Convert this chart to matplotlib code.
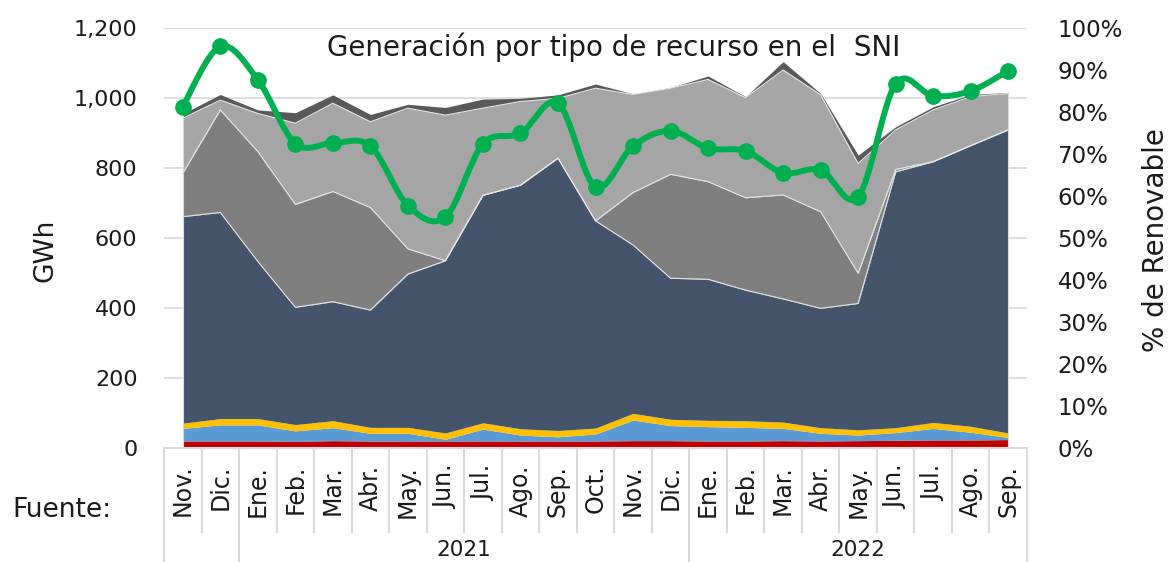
import matplotlib
matplotlib.use("Agg")
import matplotlib.pyplot as plt
from matplotlib.path import Path
from matplotlib.patches import PathPatch
import matplotlib.transforms as mtransforms
import numpy as np

plt.rcParams['font.family'] = ['DejaVu Sans']

months = ["Nov.", "Dic.", "Ene.", "Feb.", "Mar.", "Abr.", "May.", "Jun.", "Jul.", "Ago.",
          "Sep.", "Oct.", "Nov.", "Dic.", "Ene.", "Feb.", "Mar.", "Abr.", "May.", "Jun.",
          "Jul.", "Ago.", "Sep."]
years = ["", "2021", "2022"]
year_counts = [2, 12, 9]

red = [20, 20, 20, 19, 21, 20, 20, 20, 20, 20, 20, 20, 21, 21, 20, 20, 21, 20, 21, 22, 23, 23, 24]
blue = [36, 46, 46, 30, 37, 22, 22, 5, 34, 17, 12, 20, 59, 43, 41, 39, 35, 22, 16, 22, 33, 22, 6]
yellow = [15, 18, 18, 18, 20, 17, 17, 18, 18, 18, 18, 17, 19, 18, 18, 19, 18, 16, 15, 14, 17, 17, 13]
navy = [590, 589, 449, 335, 340, 335, 438, 492, 650, 696, 778, 592, 481, 403, 403, 373, 352, 341,
        361, 731, 745, 802, 866]
medgray = [124, 293, 314, 294, 315, 293, 72, 0, 0, 0, 0, 0, 150, 297, 279, 264, 297, 276, 86, 7,
           0, 0, 0]
lightgray = [157, 28, 109, 232, 252, 245, 402, 416, 249, 239, 171, 379, 280, 246, 292, 286, 357,
             334, 314, 113, 148, 140, 104]
darkgray = [13, 16, 10, 30, 24, 21, 11, 22, 26, 9, 10, 12, 2, 2, 10, 3, 24, 4, 24, 9, 9, 6, 3]
renovable = [81.3, 95.6, 87.7, 72.5, 72.6, 71.9, 57.7, 55.0, 72.4, 74.9, 82.1, 62.2, 71.9, 75.5,
             71.4, 70.7, 65.5, 66.2, 59.8, 86.7, 83.8, 85.0, 89.8]

series = [red, blue, yellow, navy, medgray, lightgray, darkgray]
colors = ["#C00000", "#5B9BD5", "#FFC000", "#44546A", "#7F7F7F", "#A5A5A5", "#595959"]
edged = [False, False, False, True, True, True, False]

W, H = 1171, 562
fig = plt.figure(figsize=(W / 100, H / 100), dpi=100)
L, R, T, B = 164, 1027, 28, 448
ax = fig.add_axes([L / W, 1 - B / H, (R - L) / W, (B - T) / H])

x = np.arange(len(months))
base = np.zeros(len(months))
for vals, c, e in zip(series, colors, edged):
    top = base + np.array(vals, dtype=float)
    ax.fill_between(x, base, top, color=c, linewidth=0, zorder=2)
    if e:
        ax.plot(x, top, color="#E6E6E6", linewidth=0.8, zorder=3)
    base = top
ax.plot([x[0], x[0]], [0, base[0]], color="#D9D9D9", lw=0.8, zorder=3)
ax.plot([x[-1], x[-1]], [0, base[-1]], color="#D9D9D9", lw=0.8, zorder=3)

ax.set_xlim(-0.5, len(months) - 0.5)
ax.set_ylim(0, 1200)
ax.set_yticks(range(0, 1201, 200))
ax.set_yticklabels([f"{v:,}" for v in range(0, 1201, 200)])
ax.yaxis.grid(True, color="#D9D9D9", linewidth=1.2, zorder=0)
ax.set_axisbelow(True)
for s in ax.spines.values():
    s.set_visible(False)
ax.tick_params(axis='y', length=0, pad=19, labelsize=16, colors="#1a1a1a")
ax.tick_params(axis='x', length=0, labelbottom=False)

# secondary axis
ax2 = ax.twinx()
ax2.set_ylim(0, 100)
ax2.set_yticks(range(0, 101, 10))
ax2.set_yticklabels([f"{v}%" for v in range(0, 101, 10)])
for s in ax2.spines.values():
    s.set_visible(False)
ax2.tick_params(axis='y', length=0, pad=22, labelsize=16.5, colors="#1a1a1a")

fig.text(45 / W, 1 - 250 / H, "GWh", rotation=90, ha='center', va='center', fontsize=19,
         color="#1a1a1a")
fig.text(1156 / W, 1 - 240 / H, "% de Renovable", rotation=90, ha='center', va='center',
         fontsize=20, color="#1a1a1a")

# smooth line (Bezier through data points)
px = x.astype(float)
py = np.array(renovable, dtype=float)
n = len(px)
verts = [(px[0], py[0])]
codes = [Path.MOVETO]
for i in range(n - 1):
    p0 = np.array([px[max(i - 1, 0)], py[max(i - 1, 0)]])
    p1 = np.array([px[i], py[i]])
    p2 = np.array([px[i + 1], py[i + 1]])
    p3 = np.array([px[min(i + 2, n - 1)], py[min(i + 2, n - 1)]])
    c1 = p1 + (p2 - p0) / 6
    c2 = p2 - (p3 - p1) / 6
    verts += [tuple(c1), tuple(c2), tuple(p2)]
    codes += [Path.CURVE4] * 3
ax2.add_patch(PathPatch(Path(verts, codes), facecolor='none', edgecolor="#00B050",
                        linewidth=4.3, zorder=5, capstyle='round', joinstyle='round'))
ax2.plot(px, py, linestyle='none', marker='o', markersize=11, color="#00B050", zorder=6)

ax2.text(0.521, 0.955, "Generación por tipo de recurso en el  SNI", transform=ax2.transAxes,
         ha='center', va='center', fontsize=20, color="#1a1a1a", zorder=7)

# category table
trans = mtransforms.blended_transform_factory(ax.transData, ax.transAxes)
gc = "#D9D9D9"
ax.plot([-0.5, len(months) - 0.5], [0, 0], transform=trans, color=gc, lw=1.5, clip_on=False)
for i, m in enumerate(months):
    ax.text(i, -0.04, m, transform=trans, rotation=90, ha='center', va='top', fontsize=17,
            color="#1a1a1a")
bounds = np.cumsum([0] + year_counts) - 0.5
for i in range(len(months) + 1):
    xb = i - 0.5
    if xb in bounds:
        ax.plot([xb, xb], [0, -0.3], transform=trans, color=gc, lw=1.5, clip_on=False)
    else:
        ax.plot([xb, xb], [0, -0.2], transform=trans, color=gc, lw=1.5, clip_on=False)
for yname, a, b in zip(years, bounds[:-1], bounds[1:]):
    if yname:
        ax.text((a + b) / 2, -0.243, yname, transform=trans, ha='center', va='center',
                fontsize=15.5, color="#1a1a1a")

fig.text(12 / W, 1 - 510 / H, "Fuente:", ha='left', va='center', fontsize=19, color="#1a1a1a")

fig.savefig("out.png", dpi=100)
